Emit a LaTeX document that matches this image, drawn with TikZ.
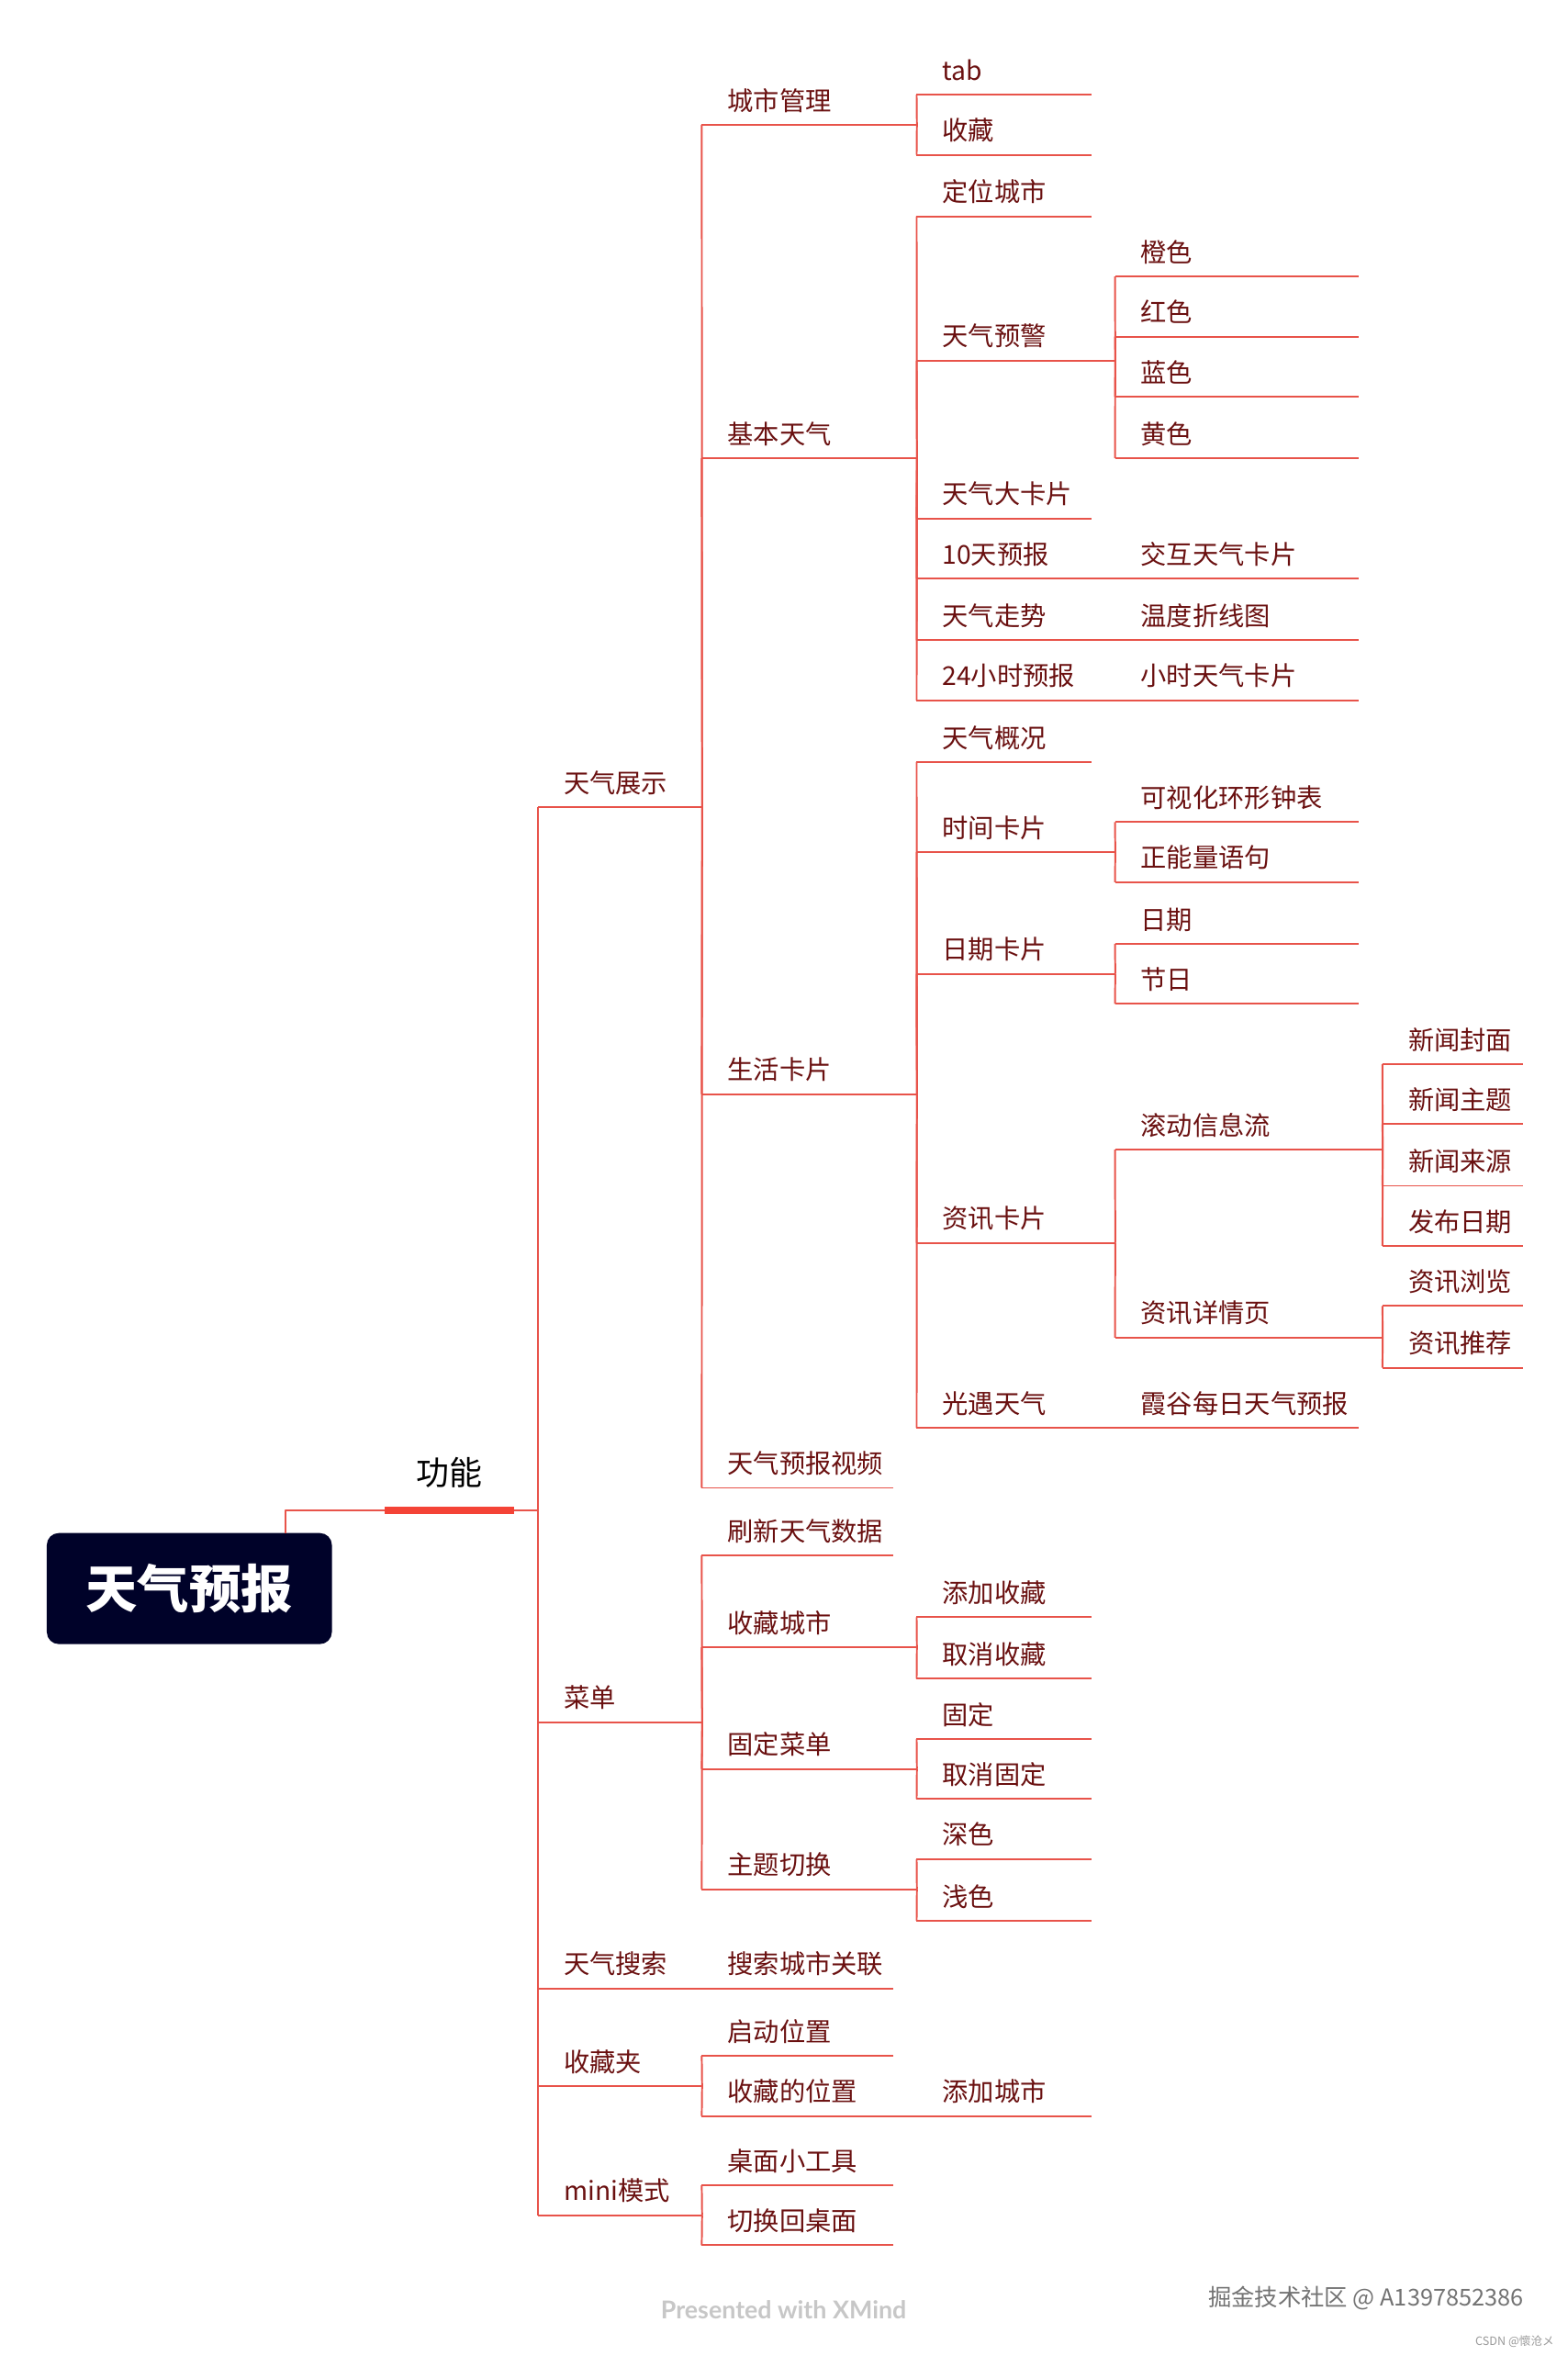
\documentclass[tikz,border=0pt]{standalone}
\usepackage{fontspec}
\usetikzlibrary{positioning}
\setmainfont{Noto Sans CJK SC}
\newfontfamily\latinsans{Lato}
\definecolor{linkred}{HTML}{E8534A}
\definecolor{barred}{HTML}{F44336}
\definecolor{topicred}{HTML}{6A1010}
\definecolor{rootblue}{HTML}{000229}
\tikzset{
  link/.style={draw=linkred,line width=1.2pt},
  topic/.style={anchor=south west,inner xsep=17pt,inner ysep=0pt,minimum height=34pt,
    text width=#1pt-34pt,text height=18pt,text depth=3pt,text=topicred,
    font=\fontsize{17.3}{20}\selectfont,
    append after command={(\tikzlastnode.south west) edge[link] (\tikzlastnode.south east)}},
  mark text/.style={text=#1,inner sep=0pt},
}
\begin{document}
\begin{tikzpicture}[x=1.0015pt,y=-1.0015pt,line join=round]
  \useasboundingbox (0,0) rectangle (1043.43,1567.65);
  \node[fill=rootblue,rounded corners=8pt,text=white,minimum width=190pt,minimum height=74pt,
    inner sep=0pt,font=\fontsize{34.5}{40}\selectfont\bfseries] (root) at (126,1057) {天气预报};
  \node[fill=barred,minimum width=86pt,minimum height=5pt,inner sep=0pt] (func) at (299,1005) {};
  \node[inner sep=0pt,font=\fontsize{22}{26}\selectfont,above=12pt of func.north] (funclabel) {功能};
  \coordinate (rootout) at (190,1020);
  \draw[link] (rootout) |- (func.west);
  % level 1
  \node[topic=109] (show) at (358,537) {天气展示};
  \node[topic=109] (menu) at (358,1146) {菜单};
  \node[topic=109] (search) at (358,1323) {天气搜索};
  \node[topic=109] (favs) at (358,1388) {收藏夹};
  \node[topic=109] (mini) at (358,1474) {mini模式};
  % level 2
  \node[topic=143] (city) at (467,83) {城市管理};
  \node[topic=143] (basic) at (467,305) {基本天气};
  \node[topic=143] (life) at (467,728) {生活卡片};
  \node[topic=127] (video) at (467,990) {天气预报视频};
  \node[topic=127] (refresh) at (467,1035) {刷新天气数据};
  \node[topic=143] (favcity) at (467,1096) {收藏城市};
  \node[topic=143] (pin) at (467,1177) {固定菜单};
  \node[topic=143] (theme) at (467,1257) {主题切换};
  \node[topic=127] (assoc) at (467,1323) {搜索城市关联};
  \node[topic=127] (startpos) at (467,1368) {启动位置};
  \node[topic=143] (favpos) at (467,1408) {收藏的位置};
  \node[topic=127] (widget) at (467,1454) {桌面小工具};
  \node[topic=127] (desktop) at (467,1494) {切换回桌面};
  % level 3
  \node[topic=116] (tab) at (610,63) {tab};
  \node[topic=116] (fav) at (610,103) {收藏};
  \node[topic=116] (locate) at (610,144) {定位城市};
  \node[topic=132] (alert) at (610,240) {天气预警};
  \node[topic=116] (bigcard) at (610,345) {天气大卡片};
  \node[topic=132] (tenday) at (610,385) {10天预报};
  \node[topic=132] (trend) at (610,426) {天气走势};
  \node[topic=132] (hours) at (610,466) {24小时预报};
  \node[topic=116] (brief) at (610,507) {天气概况};
  \node[topic=132] (timecard) at (610,567) {时间卡片};
  \node[topic=132] (datecard) at (610,648) {日期卡片};
  \node[topic=132] (news) at (610,827) {资讯卡片};
  \node[topic=132] (sky) at (610,950) {光遇天气};
  \node[topic=116] (favadd) at (610,1076) {添加收藏};
  \node[topic=116] (favdel) at (610,1117) {取消收藏};
  \node[topic=116] (pinon) at (610,1157) {固定};
  \node[topic=116] (pinoff) at (610,1197) {取消固定};
  \node[topic=116] (dark) at (610,1237) {深色};
  \node[topic=116] (light) at (610,1278) {浅色};
  \node[topic=116] (addcity) at (610,1408) {添加城市};
  % level 4
  \node[topic=162] (orange) at (742,184) {橙色};
  \node[topic=162] (red) at (742,224) {红色};
  \node[topic=162] (blue) at (742,264) {蓝色};
  \node[topic=162] (yellow) at (742,305) {黄色};
  \node[topic=162] (tencard) at (742,385) {交互天气卡片};
  \node[topic=162] (tempchart) at (742,426) {温度折线图};
  \node[topic=162] (hourcard) at (742,466) {小时天气卡片};
  \node[topic=162] (clock) at (742,547) {可视化环形钟表};
  \node[topic=162] (quote) at (742,587) {正能量语句};
  \node[topic=162] (date) at (742,628) {日期};
  \node[topic=162] (holiday) at (742,668) {节日};
  \node[topic=178] (feed) at (742,765) {滚动信息流};
  \node[topic=178] (detail) at (742,890) {资讯详情页};
  \node[topic=162] (valley) at (742,950) {霞谷每日天气预报};
  % level 5
  \node[topic=93] (cover) at (920,708) {新闻封面};
  \node[topic=93] (headline) at (920,748) {新闻主题};
  \node[topic=93] (source) at (920,789) {新闻来源};
  \node[topic=93] (pubdate) at (920,829) {发布日期};
  \node[topic=93] (browse) at (920,869) {资讯浏览};
  \node[topic=93] (recommend) at (920,910) {资讯推荐};
  % buses
  \coordinate (busone) at (358,1005);
  \draw[link] (func.east) -- (busone);
  \foreach \kid in {show,menu,search,favs,mini}
    \draw[link] (busone) -- (\kid.south west);
  \foreach \up/\kid in {show/city,show/basic,show/life,show/video,
      menu/refresh,menu/favcity,menu/pin,menu/theme,search/assoc,
      favs/startpos,favs/favpos,mini/widget,mini/desktop,
      city/tab,city/fav,basic/locate,basic/alert,basic/bigcard,basic/tenday,basic/trend,basic/hours,
      life/brief,life/timecard,life/datecard,life/news,life/sky,
      favcity/favadd,favcity/favdel,pin/pinon,pin/pinoff,theme/dark,theme/light,favpos/addcity,
      alert/orange,alert/red,alert/blue,alert/yellow,tenday/tencard,trend/tempchart,hours/hourcard,
      timecard/clock,timecard/quote,datecard/date,datecard/holiday,news/feed,news/detail,sky/valley,
      feed/cover,feed/headline,feed/source,feed/pubdate,detail/browse,detail/recommend}
    \draw[link] (\up.south east) -- (\kid.south west);
  % marks
  \node[mark text=black!22,font=\latinsans\fontsize{16.4}{18}\selectfont\bfseries] (xmind) at (521.5,1537) {Presented with XMind};
  \node[mark text=black!55,font=\fontsize{15.5}{20}\selectfont] (juejin) at (909,1529) {掘金技术社区 @ A1397852386};
  \node[mark text=black!40,font=\fontsize{7.7}{10}\selectfont] (csdn) at (1008,1558) {CSDN @懷沧メ};
\end{tikzpicture}
\end{document}
